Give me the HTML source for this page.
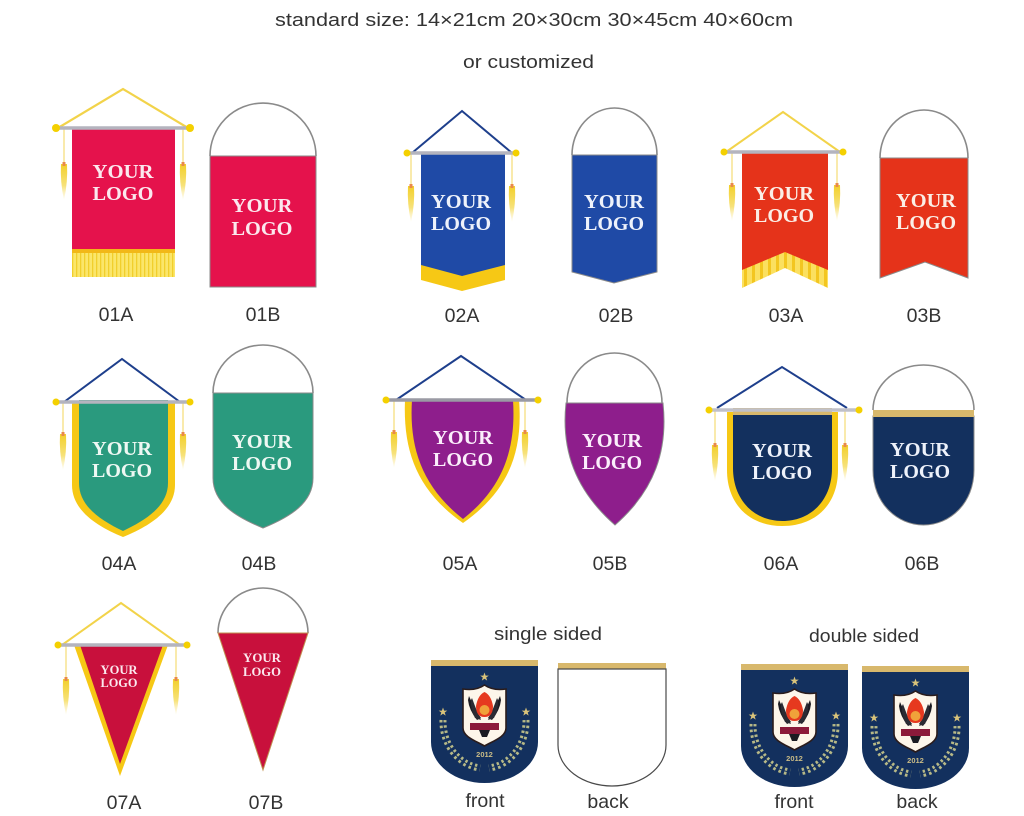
<!DOCTYPE html>
<html>
<head>
<meta charset="utf-8">
<style>
html,body{margin:0;padding:0;background:#fff;}
svg{display:block;}
.lbl{font-family:"Liberation Sans",Arial,sans-serif;font-size:19.5px;fill:#333;text-anchor:middle;}
.hd{font-family:"Liberation Sans",Arial,sans-serif;font-size:18px;fill:#333;}
.logo{font-family:"Liberation Serif","Times New Roman",serif;font-weight:bold;font-size:20px;text-anchor:middle;}
.logo7{font-family:"Liberation Serif","Times New Roman",serif;font-weight:bold;font-size:12.5px;text-anchor:middle;}
</style>
</head>
<body>
<svg width="1024" height="816" viewBox="0 0 1024 816" xmlns="http://www.w3.org/2000/svg">
<defs>
  <linearGradient id="tg" x1="0" y1="0" x2="0" y2="1">
    <stop offset="0" stop-color="#f2cf2a"/>
    <stop offset="0.6" stop-color="#f7e27a"/>
    <stop offset="1" stop-color="#fdf3c8" stop-opacity="0.3"/>
  </linearGradient>
  <g id="tb">
    <path d="M-3,2 Q-4,20 0,38 Q4,20 3,2 Z" fill="url(#tg)"/>
    <rect x="-1.5" y="0" width="3" height="4" fill="#e9894a"/>
  </g>
  <pattern id="fr" width="4" height="30" patternUnits="userSpaceOnUse">
    <rect width="4" height="30" fill="#fbe66a"/>
    <rect width="1.3" height="30" fill="#f1cf2c"/>
  </pattern>
  <pattern id="fr3" width="8" height="40" patternUnits="userSpaceOnUse">
    <rect width="8" height="40" fill="#fbe060"/>
    <rect width="3" height="40" fill="#f3c620"/>
  </pattern>
  <g id="star"><polygon points="0,-4.5 1.1,-1.4 4.3,-1.4 1.7,0.5 2.7,3.6 0,1.7 -2.7,3.6 -1.7,0.5 -4.3,-1.4 -1.1,-1.4" fill="#d9c37a"/></g>
  <g id="crest">
    <rect x="0" y="0" width="107" height="6.5" fill="#d8b86c"/>
    <path d="M0,6 H107 V82 A53.5 41 0 0 1 0,82 Z" fill="#13305e"/>
    <use href="#star" x="53.5" y="17"/>
    <use href="#star" x="12" y="52"/>
    <use href="#star" x="95" y="52"/>
    <path d="M12,60 A42 47 0 0 0 49,108" fill="none" stroke="#b7b987" stroke-width="7" stroke-dasharray="2.5 3"/>
    <path d="M95,60 A42 47 0 0 1 58,108" fill="none" stroke="#b7b987" stroke-width="7" stroke-dasharray="2.5 3"/>
    <path d="M12,60 A42 47 0 0 0 49,108" fill="none" stroke="#13305e" stroke-width="1"/>
    <path d="M95,60 A42 47 0 0 1 58,108" fill="none" stroke="#13305e" stroke-width="1"/>
    <path d="M53.5,25 Q62,31 75,29 V68 C75,77 62,81 53.5,86 C45,81 32,77 32,68 V29 Q45,31 53.5,25 Z" fill="#fdf6ea" stroke="#2a1c1c" stroke-width="1.6"/>
    <path d="M38,36 Q44,50 50,58 L46,60 Q38,50 37,40 Z" fill="#1b1b22"/>
    <path d="M69,36 Q63,50 57,58 L61,60 Q69,50 70,40 Z" fill="#1b1b22"/>
    <path d="M41,38 Q46,52 50,60 L44,58 Q39,48 40,40 Z" fill="#2b2b33"/>
    <path d="M66,38 Q61,52 57,60 L63,58 Q68,48 67,40 Z" fill="#2b2b33"/>
    <path d="M45,46 Q47,35 53.5,32 Q60,35 62,46 Q62,57 53.5,57 Q45,57 45,46 Z" fill="#e6391f"/>
    <circle cx="53.5" cy="50" r="5" fill="#f0a23a"/>
    <rect x="39" y="63" width="29" height="7" fill="#8c1a3a"/>
    <path d="M48,70 H59 L56,77 H51 Z" fill="#1b1b22"/>
  </g>
</defs>

<!-- Header -->
<text class="hd" x="275" y="26" textLength="518" lengthAdjust="spacingAndGlyphs">standard size: 14×21cm  20×30cm  30×45cm  40×60cm</text>
<text class="hd" x="463" y="68" textLength="131" lengthAdjust="spacingAndGlyphs">or customized</text>

<!-- 01A -->
<polyline points="58,128 123,89 188,128" fill="none" stroke="#f2d34a" stroke-width="2.2"/>
<line x1="64" y1="128" x2="64" y2="163" stroke="#f3d55a" stroke-width="1"/>
<use href="#tb" x="64" y="162"/>
<line x1="183" y1="128" x2="183" y2="163" stroke="#f3d55a" stroke-width="1"/>
<use href="#tb" x="183" y="162"/>
<rect x="72" y="127" width="103" height="123" fill="#e5124c"/>
<rect x="72" y="250" width="103" height="27" fill="url(#fr)"/>
<rect x="72" y="249" width="103" height="4" fill="#f2b818"/>
<line x1="55" y1="128" x2="192" y2="128" stroke="#b4b4be" stroke-width="3.5"/>
<circle cx="56" cy="128" r="4" fill="#f4d000"/>
<circle cx="190" cy="128" r="4" fill="#f4d000"/>
<text class="logo" x="123" y="178" fill="#fbe8ee" textLength="61" lengthAdjust="spacingAndGlyphs">YOUR</text>
<text class="logo" x="123" y="200" fill="#fbe8ee" textLength="61" lengthAdjust="spacingAndGlyphs">LOGO</text>
<text class="lbl" x="116" y="321">01A</text>

<!-- 01B -->
<path d="M210,156 A53 53 0 0 1 316,156" fill="none" stroke="#8a8a8a" stroke-width="1.6"/>
<rect x="210" y="156" width="106" height="131" fill="#e5124c" stroke="#8a8a8a" stroke-width="1"/>
<text class="logo" x="262" y="212" fill="#fbe8ee" textLength="61" lengthAdjust="spacingAndGlyphs">YOUR</text>
<text class="logo" x="262" y="235" fill="#fbe8ee" textLength="61" lengthAdjust="spacingAndGlyphs">LOGO</text>
<text class="lbl" x="263" y="321">01B</text>

<!-- 02A -->
<polyline points="412,153 462,111 512,153" fill="none" stroke="#1e3f8c" stroke-width="2"/>
<line x1="411" y1="153" x2="411" y2="185" stroke="#f3d55a" stroke-width="1"/>
<use href="#tb" x="411" y="184"/>
<line x1="512" y1="153" x2="512" y2="185" stroke="#f3d55a" stroke-width="1"/>
<use href="#tb" x="512" y="184"/>
<polygon points="421,260 505,260 505,280 462,291 421,280" fill="#f6c815"/>
<polygon points="421,152 505,152 505,265 462,276 421,265" fill="#1f4aa6"/>
<line x1="405" y1="153" x2="518" y2="153" stroke="#b4b4be" stroke-width="3.5"/>
<circle cx="407" cy="153" r="3.5" fill="#f4d000"/>
<circle cx="516" cy="153" r="3.5" fill="#f4d000"/>
<text class="logo" x="461" y="208" fill="#eef2fb" textLength="60" lengthAdjust="spacingAndGlyphs">YOUR</text>
<text class="logo" x="461" y="230" fill="#eef2fb" textLength="60" lengthAdjust="spacingAndGlyphs">LOGO</text>
<text class="lbl" x="462" y="322">02A</text>

<!-- 02B -->
<path d="M572,155 A42.5 47 0 0 1 657,155" fill="none" stroke="#8a8a8a" stroke-width="1.6"/>
<polygon points="572,155 657,155 657,272 614,283 572,272" fill="#1f4aa6" stroke="#8a8a8a" stroke-width="1"/>
<text class="logo" x="614" y="208" fill="#eef2fb" textLength="60" lengthAdjust="spacingAndGlyphs">YOUR</text>
<text class="logo" x="614" y="230" fill="#eef2fb" textLength="60" lengthAdjust="spacingAndGlyphs">LOGO</text>
<text class="lbl" x="616" y="322">02B</text>

<!-- 03A -->
<polyline points="726,152 783,112 840,152" fill="none" stroke="#f2d34a" stroke-width="2"/>
<line x1="732" y1="152" x2="732" y2="184" stroke="#f3d55a" stroke-width="1"/>
<use href="#tb" x="732" y="183"/>
<line x1="837" y1="152" x2="837" y2="184" stroke="#f3d55a" stroke-width="1"/>
<use href="#tb" x="837" y="183"/>
<polygon points="742,262 785,245 828,262 828,288 785,268 742,288" fill="url(#fr3)"/>
<polygon points="742,151 828,151 828,270 785,252 742,270" fill="#e5331a"/>
<line x1="722" y1="152" x2="845" y2="152" stroke="#b4b4be" stroke-width="3.5"/>
<circle cx="724" cy="152" r="3.5" fill="#f4d000"/>
<circle cx="843" cy="152" r="3.5" fill="#f4d000"/>
<text class="logo" x="784" y="200" fill="#fbeee6" textLength="60" lengthAdjust="spacingAndGlyphs">YOUR</text>
<text class="logo" x="784" y="222" fill="#fbeee6" textLength="60" lengthAdjust="spacingAndGlyphs">LOGO</text>
<text class="lbl" x="786" y="322">03A</text>

<!-- 03B -->
<path d="M880,158 A44 48 0 0 1 968,158" fill="none" stroke="#8a8a8a" stroke-width="1.6"/>
<polygon points="880,158 968,158 968,278 925,262 880,278" fill="#e5331a" stroke="#8a8a8a" stroke-width="1"/>
<text class="logo" x="926" y="207" fill="#fbeee6" textLength="60" lengthAdjust="spacingAndGlyphs">YOUR</text>
<text class="logo" x="926" y="229" fill="#fbeee6" textLength="60" lengthAdjust="spacingAndGlyphs">LOGO</text>
<text class="lbl" x="924" y="322">03B</text>

<!-- 04A -->
<polyline points="64,402 122,359 180,402" fill="none" stroke="#1e3f8c" stroke-width="2"/>
<line x1="63" y1="402" x2="63" y2="433" stroke="#f3d55a" stroke-width="1"/>
<use href="#tb" x="63" y="432"/>
<line x1="183" y1="402" x2="183" y2="433" stroke="#f3d55a" stroke-width="1"/>
<use href="#tb" x="183" y="432"/>
<path d="M72,402 H175 V485 C175,510 150,526 123,537 C96,526 72,510 72,485 Z" fill="#f6c815"/>
<path d="M79,400 H168 V483 C168,506 146,520 123,531 C100,520 79,506 79,483 Z" fill="#2a9a7e"/>
<line x1="55" y1="402" x2="192" y2="402" stroke="#b4b4be" stroke-width="3.5"/>
<circle cx="56" cy="402" r="3.5" fill="#f4d000"/>
<circle cx="190" cy="402" r="3.5" fill="#f4d000"/>
<text class="logo" x="122" y="455" fill="#eef8f3" textLength="60" lengthAdjust="spacingAndGlyphs">YOUR</text>
<text class="logo" x="122" y="477" fill="#eef8f3" textLength="60" lengthAdjust="spacingAndGlyphs">LOGO</text>
<text class="lbl" x="119" y="570">04A</text>

<!-- 04B -->
<path d="M213,393 A50 48 0 0 1 313,393" fill="none" stroke="#8a8a8a" stroke-width="1.6"/>
<path d="M213,393 H313 V478 C313,503 290,517 263,528 C236,517 213,503 213,478 Z" fill="#2a9a7e" stroke="#8a8a8a" stroke-width="1"/>
<text class="logo" x="262" y="448" fill="#eef8f3" textLength="60" lengthAdjust="spacingAndGlyphs">YOUR</text>
<text class="logo" x="262" y="470" fill="#eef8f3" textLength="60" lengthAdjust="spacingAndGlyphs">LOGO</text>
<text class="lbl" x="259" y="570">04B</text>

<!-- 05A -->
<polyline points="396,400 461,356 526,400" fill="none" stroke="#1e3f8c" stroke-width="2"/>
<line x1="394" y1="400" x2="394" y2="431" stroke="#f3d55a" stroke-width="1"/>
<use href="#tb" x="394" y="430"/>
<line x1="525" y1="400" x2="525" y2="431" stroke="#f3d55a" stroke-width="1"/>
<use href="#tb" x="525" y="430"/>
<path d="M405,400 H519 C523,450 510,490 463,523 C416,490 403,450 405,400 Z" fill="#f6c815"/>
<path d="M412,400 H513 C516,446 505,486 463,519 C421,486 409,446 412,400 Z" fill="#8e1e8c"/>
<line x1="385" y1="400" x2="540" y2="400" stroke="#9a9aa4" stroke-width="3.5"/>
<circle cx="386" cy="400" r="3.5" fill="#f4d000"/>
<circle cx="538" cy="400" r="3.5" fill="#f4d000"/>
<text class="logo" x="463" y="444" fill="#fbeefb" textLength="60" lengthAdjust="spacingAndGlyphs">YOUR</text>
<text class="logo" x="463" y="466" fill="#fbeefb" textLength="60" lengthAdjust="spacingAndGlyphs">LOGO</text>
<text class="lbl" x="460" y="570">05A</text>

<!-- 05B -->
<path d="M567,403 A47.5 50 0 0 1 662,403" fill="none" stroke="#8a8a8a" stroke-width="1.6"/>
<path d="M566,403 H663 C668,450 655,490 615,525 C575,490 561,450 566,403 Z" fill="#8e1e8c" stroke="#8a8a8a" stroke-width="1"/>
<text class="logo" x="612" y="447" fill="#fbeefb" textLength="60" lengthAdjust="spacingAndGlyphs">YOUR</text>
<text class="logo" x="612" y="469" fill="#fbeefb" textLength="60" lengthAdjust="spacingAndGlyphs">LOGO</text>
<text class="lbl" x="610" y="570">05B</text>

<!-- 06A -->
<polyline points="717,408 782,367 847,408" fill="none" stroke="#1e3f8c" stroke-width="2"/>
<line x1="715" y1="410" x2="715" y2="444" stroke="#f3d55a" stroke-width="1"/>
<use href="#tb" x="715" y="443"/>
<line x1="845" y1="410" x2="845" y2="444" stroke="#f3d55a" stroke-width="1"/>
<use href="#tb" x="845" y="443"/>
<path d="M727,412 H838 V470 C838,505 815,526 782.5,526 C750,526 727,505 727,470 Z" fill="#f6c815"/>
<path d="M733,414 H832 V468 C832,500 811,521 782.5,521 C754,521 733,500 733,468 Z" fill="#13305e"/>
<rect x="733" y="408" width="99" height="7" fill="#d8b86c"/>
<line x1="709" y1="410" x2="860" y2="410" stroke="#c0c0c8" stroke-width="3.5"/>
<circle cx="709" cy="410" r="3.5" fill="#f4d000"/>
<circle cx="859" cy="410" r="3.5" fill="#f4d000"/>
<text class="logo" x="782" y="457" fill="#eef2fb" textLength="60" lengthAdjust="spacingAndGlyphs">YOUR</text>
<text class="logo" x="782" y="479" fill="#eef2fb" textLength="60" lengthAdjust="spacingAndGlyphs">LOGO</text>
<text class="lbl" x="781" y="570">06A</text>

<!-- 06B -->
<path d="M873,410 A50.5 45 0 0 1 974,410" fill="none" stroke="#8a8a8a" stroke-width="1.6"/>
<path d="M873,416 H974 V470 C974,503 950,525 923.5,525 C897,525 873,503 873,470 Z" fill="#13305e" stroke="#8a8a8a" stroke-width="1"/>
<rect x="873" y="410" width="101" height="7" fill="#d8b86c"/>
<text class="logo" x="920" y="456" fill="#eef2fb" textLength="60" lengthAdjust="spacingAndGlyphs">YOUR</text>
<text class="logo" x="920" y="478" fill="#eef2fb" textLength="60" lengthAdjust="spacingAndGlyphs">LOGO</text>
<text class="lbl" x="922" y="570">06B</text>

<!-- 07A -->
<polyline points="62,645 121,603 180,645" fill="none" stroke="#f2d34a" stroke-width="2"/>
<line x1="66" y1="645" x2="66" y2="678" stroke="#f3d55a" stroke-width="1"/>
<use href="#tb" x="66" y="677"/>
<line x1="176" y1="645" x2="176" y2="678" stroke="#f3d55a" stroke-width="1"/>
<use href="#tb" x="176" y="677"/>
<polygon points="74,645 168,645 120,776" fill="#f6c815"/>
<polygon points="80,645 163,645 120,764" fill="#c8103c"/>
<line x1="57" y1="645" x2="188" y2="645" stroke="#b4b4be" stroke-width="3.5"/>
<circle cx="58" cy="645" r="3.5" fill="#f4d000"/>
<circle cx="187" cy="645" r="3.5" fill="#f4d000"/>
<text class="logo7" x="119" y="674" fill="#fbe8ee" textLength="37" lengthAdjust="spacingAndGlyphs">YOUR</text>
<text class="logo7" x="119" y="687" fill="#fbe8ee" textLength="37" lengthAdjust="spacingAndGlyphs">LOGO</text>
<text class="lbl" x="124" y="809">07A</text>

<!-- 07B -->
<path d="M218,633 A45 45 0 0 1 308,633" fill="none" stroke="#8a8a8a" stroke-width="1.6"/>
<polygon points="218,633 308,633 263,770" fill="#c8103c" stroke="#c09050" stroke-width="1"/>
<text class="logo7" x="262" y="662" fill="#fbe8ee" textLength="38" lengthAdjust="spacingAndGlyphs">YOUR</text>
<text class="logo7" x="262" y="676" fill="#fbe8ee" textLength="38" lengthAdjust="spacingAndGlyphs">LOGO</text>
<text class="lbl" x="266" y="809">07B</text>

<!-- single sided -->
<text class="hd" x="494" y="640" textLength="108" lengthAdjust="spacingAndGlyphs">single sided</text>
<use href="#crest" transform="translate(431,660)"/>
<text x="484.5" y="757" font-family="Liberation Sans, Arial, sans-serif" font-size="7.5" font-weight="bold" fill="#c9bb86" text-anchor="middle">2012</text>
<rect x="558" y="663" width="108" height="6.5" fill="#d8b86c"/>
<path d="M558,669 H666 V745 A54 41 0 0 1 558,745 Z" fill="#fff" stroke="#4a4a4a" stroke-width="1.2"/>
<text class="lbl" x="485" y="807">front</text>
<text class="lbl" x="608" y="808">back</text>

<!-- double sided -->
<text class="hd" x="809" y="642" textLength="110" lengthAdjust="spacingAndGlyphs">double sided</text>
<use href="#crest" transform="translate(741,664)"/>
<text x="794.5" y="761" font-family="Liberation Sans, Arial, sans-serif" font-size="7.5" font-weight="bold" fill="#c9bb86" text-anchor="middle">2012</text>
<use href="#crest" transform="translate(862,666)"/>
<text x="915.5" y="763" font-family="Liberation Sans, Arial, sans-serif" font-size="7.5" font-weight="bold" fill="#c9bb86" text-anchor="middle">2012</text>
<text class="lbl" x="794" y="808">front</text>
<text class="lbl" x="917" y="808">back</text>
</svg>
</body>
</html>
